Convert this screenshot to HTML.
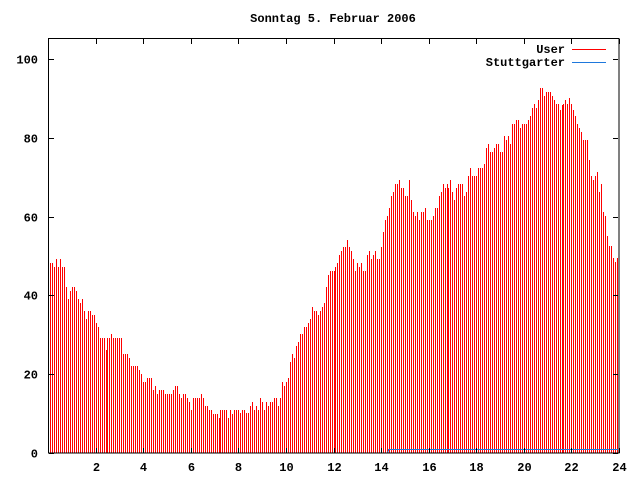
<!DOCTYPE html>
<html><head><meta charset="utf-8"><style>
html,body{margin:0;padding:0;background:#fff;width:640px;height:480px;overflow:hidden}
text{font-family:"Liberation Mono","DejaVu Sans Mono",monospace;font-weight:bold;font-size:12px;fill:#000}
</style></head><body>
<svg id="s" width="640" height="480" xmlns="http://www.w3.org/2000/svg" shape-rendering="crispEdges">
<rect width="640" height="480" fill="#fff"/>
<g id="bars" stroke="#ff0000" stroke-width="1"></g>
<polyline points="388,452.5 388.5,449.5 618,449.5" fill="none" stroke="#1e78dc" stroke-width="1"/>
<rect x="48.5" y="38.5" width="570.5" height="414.5" fill="none" stroke="#000" stroke-width="1"/>
<g id="ticks" stroke="#000" stroke-width="1"></g>
<g id="labels"></g>
<text x="333" y="22" text-anchor="middle">Sonntag 5. Februar 2006</text>
<text x="565" y="53" text-anchor="end">User</text>
<line x1="572" y1="49.5" x2="606" y2="49.5" stroke="#ff0000"/>
<text x="565" y="66" text-anchor="end">Stuttgarter</text>
<line x1="572" y1="62.5" x2="606" y2="62.5" stroke="#1e78dc"/>
</svg>
<script>
var z1=[263,263,267,259,267,259,267,267,287,299,291,287,287,291,299,303,299,311,319,311,311,315,315,323,327,338,338,338,350,338,338,334,338,338,338,338,338,354,354,354,358,366,366,366,366,370,374,382,382,378,378,378,390,386,394,390,390,390,394,394,394,394,390,386,386,394,398,394,394,398,402,410,398,398,398,398,394,398,406,406,410,410,414,414,414,418,410,410,410,410,418,410,414,410,410];
var z2=[410,413,410,410,410,410,413,410,410,413,413,406,402,410,406,410,398,402,410,402,406,402,402,398,398,406,398,382,386,382,378,362,354,358,346,342,334,334,327,327,323,319,307,311,311,315,311,307,303,287,275,271,271,271,271,267,263,255,251,247,247,240,247,251,259,271,263,267,263,271,271,255,251,259,255,251,259,259,247,232,220,216,208,196,192,184,184,180,188,188,196,196,180,200,212,216,212,220,212,212,208];
var z3=[212,220,212,212,208,220,220,220,216,208,208,196,192,184,188,184,188,180,192,200,188,184,184,184,196,192,176,168,176,176,176,168,168,168,164,148,144,152,152,148,144,144,152,152,136,140,136,144,124,124,120,120,128,124,124,124,120,116,108,104,108,100,88,88,96,92,92,92,96,100,104,104,110,105,104,100,104,98,104,110,116,124,128,132,140,140,140,160,176,180,176,172,192,184,212,216,236,246,246,258,262,258];
var d=z1.concat(z2.slice(5),z3.slice(5));
var xs=[],x=50,B=[106,219,334,447,562];
while(x<=618){xs.push(x);if(B.indexOf(x)>=0)x+=1;else x+=2;}
var h="";
for(var k=0;k<xs.length;k++){var v=d[Math.min(d.length-1,Math.round(k*d.length/xs.length))];h+='<line x1="'+(xs[k]+0.5)+'" y1="453" x2="'+(xs[k]+0.5)+'" y2="'+v+'"/>';}
document.getElementById('bars').innerHTML=h;
var t="",l="";
for(var i=0;i<=5;i++){var y=Math.round(453-i*78.8)+0.5;t+='<line x1="49" y1="'+y+'" x2="54" y2="'+y+'"/><line x1="613" y1="'+y+'" x2="618" y2="'+y+'"/>';l+='<text x="38" y="'+(y+4)+'" text-anchor="end">'+(i*20)+'</text>';}
for(var j=0;j<=12;j++){var xx=Math.round(48+j*571/12)+0.5;t+='<line x1="'+xx+'" y1="453" x2="'+xx+'" y2="448"/><line x1="'+xx+'" y1="39" x2="'+xx+'" y2="44"/>';if(j>0)l+='<text x="'+xx+'" y="471" text-anchor="middle">'+(j*2)+'</text>';}
document.getElementById('ticks').innerHTML=t;
document.getElementById('labels').innerHTML=l;
</script>
</body></html>
